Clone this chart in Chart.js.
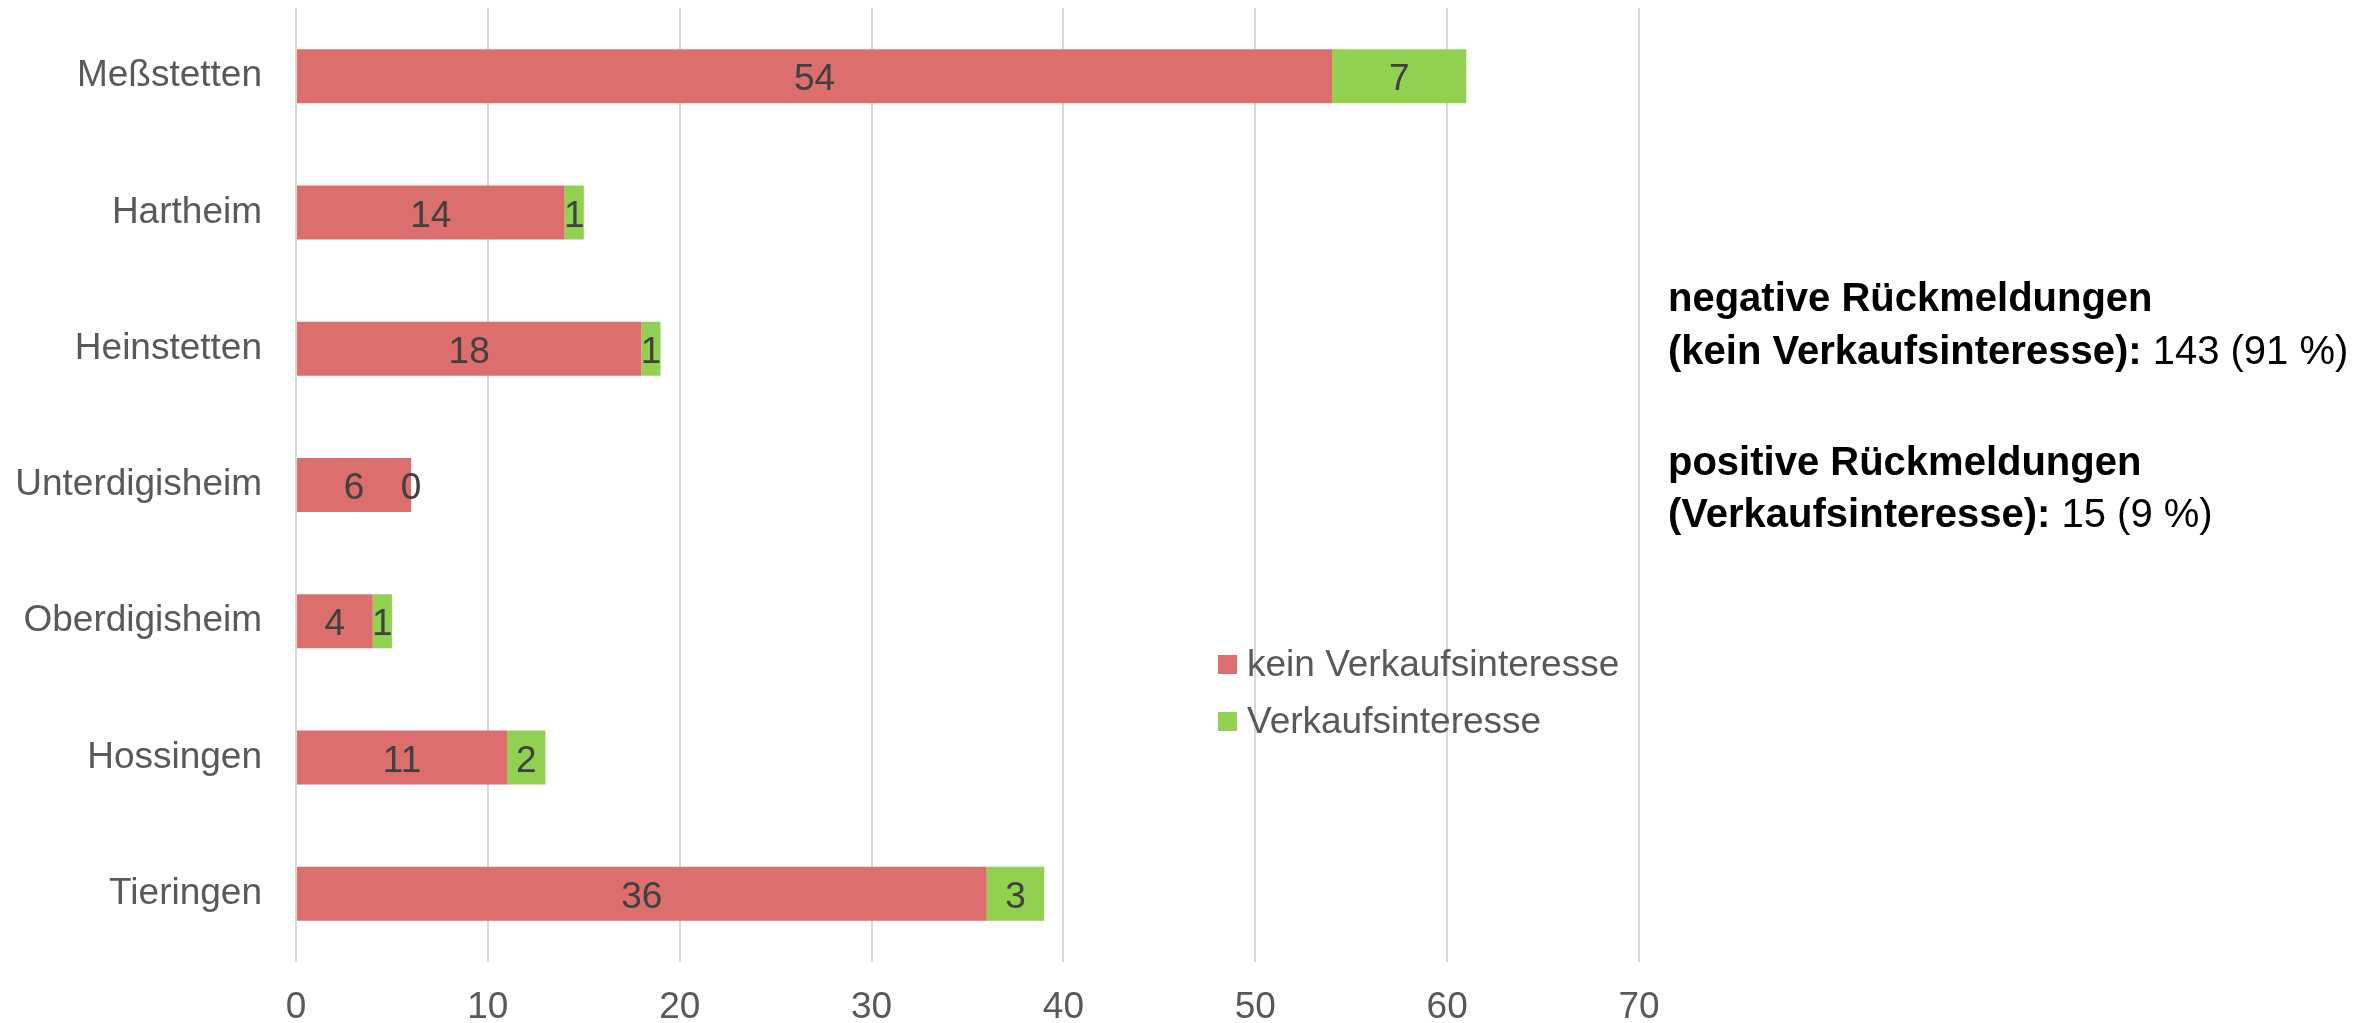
<!DOCTYPE html>
<html>
<head>
<meta charset="utf-8">
<script src="https://cdn.jsdelivr.net/npm/chart.js@4/dist/chart.umd.min.js"></script>
<style>
  body { margin: 0; background: #fff; }
  canvas { display: block; }
</style>
</head>
<body>
<canvas id="chart" width="2377" height="1023"></canvas>
<script>
// Data
const categories = ['Meßstetten', 'Hartheim', 'Heinstetten', 'Unterdigisheim', 'Oberdigisheim', 'Hossingen', 'Tieringen'];
const keinInteresse = [54, 14, 18, 6, 4, 11, 36];
const interesse = [7, 1, 1, 0, 1, 2, 3];
const seriesNames = ['kein Verkaufsinteresse', 'Verkaufsinteresse'];
const seriesColors = ['#DC6E6E', '#92D050'];
const summaryLines = [
    { bold: 'negative Rückmeldungen', normal: '' },
    { bold: '(kein Verkaufsinteresse):', normal: ' 143 (91 %)' },
    { bold: 'positive Rückmeldungen', normal: '' },
    { bold: '(Verkaufsinteresse):', normal: ' 15 (9 %)' }
];

const FONT = '"Liberation Sans", Arial, sans-serif';
const GREY = '#595959';

// value labels centred in each segment
const valueLabels = {
    id: 'valueLabels',
    afterDatasetsDraw(chart) {
        const ctx = chart.ctx;
        ctx.save();
        ctx.font = '37px ' + FONT;
        ctx.fillStyle = '#404040';
        ctx.textAlign = 'center';
        ctx.textBaseline = 'middle';
        chart.data.datasets.forEach((ds, i) => {
            chart.getDatasetMeta(i).data.forEach((bar, j) => {
                ctx.fillText(String(ds.data[j]), (bar.x + bar.base) / 2, bar.y + 4);
            });
        });
        ctx.restore();
    }
};

// legend inside the plot and the summary text on the right
const extras = {
    id: 'extras',
    afterDraw(chart) {
        const ctx = chart.ctx;
        ctx.save();
        // legend
        ctx.font = '37px ' + FONT;
        ctx.textBaseline = 'middle';
        ctx.textAlign = 'left';
        chart.data.datasets.forEach((ds, i) => {
            const y = 665 + i * 57;
            ctx.fillStyle = ds.backgroundColor;
            ctx.fillRect(1218, y - 10, 19, 19);
            ctx.fillStyle = GREY;
            ctx.fillText(ds.label, 1247, y + 1);
        });
        // summary
        const baselines = [311, 364, 475, 527];
        ctx.textBaseline = 'alphabetic';
        ctx.fillStyle = '#000';
        summaryLines.forEach((line, i) => {
            ctx.font = 'bold 40px ' + FONT;
            ctx.fillText(line.bold, 1668, baselines[i]);
            const w = ctx.measureText(line.bold).width;
            ctx.font = '40px ' + FONT;
            ctx.fillText(line.normal, 1668 + w, baselines[i]);
        });
        ctx.restore();
    }
};

const ctx = document.getElementById('chart').getContext('2d');
const chart = new Chart(ctx, {
    type: 'bar',
    data: {
        labels: categories,
        datasets: [
            { label: seriesNames[0], data: keinInteresse, backgroundColor: seriesColors[0] },
            { label: seriesNames[1], data: interesse, backgroundColor: seriesColors[1] }
        ]
    },
    options: {
        indexAxis: 'y',
        responsive: false,
        animation: false,
        barPercentage: 0.396,
        categoryPercentage: 1,
        layout: { padding: { top: 8, right: 738, bottom: 0, left: 0 } },
        plugins: {
            legend: { display: false },
            tooltip: { enabled: false }
        },
        scales: {
            x: {
                stacked: true,
                min: 0,
                max: 70,
                ticks: { stepSize: 10, color: GREY, padding: 27, font: { family: FONT, size: 37, lineHeight: 1 } },
                grid: { color: '#D9D9D9', lineWidth: 2, drawTicks: false },
                border: { display: false },
                afterFit: s => { s.height = 61; s.paddingLeft = 0; s.paddingRight = 0; }
            },
            y: {
                stacked: true,
                ticks: { color: GREY, padding: 34, font: { family: FONT, size: 37 } },
                grid: { display: false, drawTicks: false },
                border: { display: false },
                afterFit: s => { s.width = 296; s.paddingTop = 0; s.paddingBottom = 0; }
            }
        }
    },
    plugins: [valueLabels, extras]
});
</script>
</body>
</html>
